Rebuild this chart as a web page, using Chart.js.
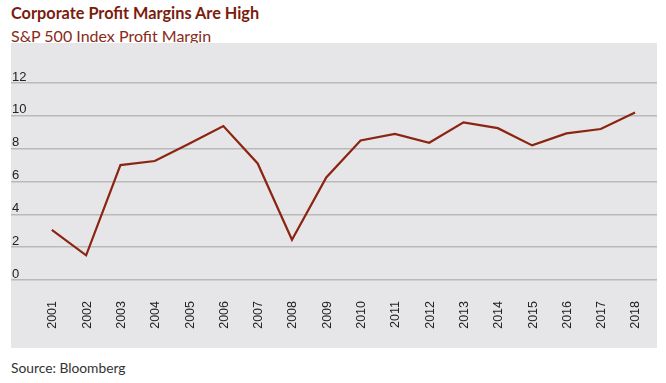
<!DOCTYPE html>
<html>
<head>
<meta charset="utf-8">
<script src="https://cdn.jsdelivr.net/npm/chart.js@4"></script>
<style>
  body { margin: 0; background: #fff; width: 666px; height: 383px; position: relative; overflow: hidden; }
  .txt { position: absolute; left: 11px; white-space: nowrap; font-family: Lato, "Open Sans", sans-serif; }
  #title { top: 3px; font-size: 16.3px; font-weight: 700; color: #7a1c0e; }
  #subtitle { top: 26px; font-size: 16px; font-weight: 400; color: #8a2a18; }
  #source { top: 359px; font-size: 13.8px; color: #333; }
  #panel { position: absolute; left: 11px; top: 43px; width: 646px; height: 305px; background: #e6e6e8; }
</style>
</head>
<body>
<div class="txt" id="title">Corporate Profit Margins Are High</div>
<div class="txt" id="subtitle">S&amp;P 500 Index Profit Margin</div>
<div id="panel"><canvas id="myChart" width="646" height="305"></canvas></div>
<div class="txt" id="source">Source: Bloomberg</div>
<script>
// 연도, 이익률(%)
const years = [2001, 2002, 2003, 2004, 2005, 2006, 2007, 2008, 2009, 2010, 2011, 2012, 2013, 2014, 2015, 2016, 2017, 2018]
const margins = [3.05, 1.5, 7.0, 7.25, 8.3, 9.38, 7.1, 2.45, 6.25, 8.5, 8.9, 8.36, 9.6, 9.25, 8.2, 8.93, 9.2, 10.2]
const yTicks = [0, 2, 4, 6, 8, 10, 12]

const ctx = document.getElementById('myChart').getContext('2d')
const points = years.map(function (y, i) {
    return { x: y, y: margins[i] }
})

new Chart(ctx, {
    type: 'line',
    data: {
        datasets: [
            {
                label: 'Profit Margin',
                data: points,
                borderColor: '#8b2411',
                borderWidth: 2.2,
                pointRadius: 0,
                tension: 0,
                fill: false,
            },
        ],
    },
    options: {
        responsive: false,
        animation: false,
        layout: { padding: { top: 40, left: 0, right: 0, bottom: 0 } },
        plugins: {
            legend: { display: false },
            tooltip: { enabled: false },
        },
        scales: {
            x: {
                type: 'linear',
                min: 1999.81,
                max: 2018.64,
                afterBuildTicks: function (scale) {
                    scale.ticks = years.map(function (v) { return { value: v } })
                },
                afterFit: function (scale) {
                    scale.height = 68
                    // 회전 라벨 때문에 생기는 좌우 여백 없애기
                    scale.paddingLeft = 0
                    scale.paddingRight = 0
                },
                grid: { display: false },
                border: { display: false },
                ticks: {
                    minRotation: 90,
                    maxRotation: 90,
                    padding: 13,
                    labelOffset: 1,
                    color: '#222',
                    font: { family: 'Liberation Sans, Arial, sans-serif', size: 12.5 },
                    callback: function (v) { return String(v) },
                },
            },
            y: {
                min: 0,
                max: 12,
                afterBuildTicks: function (scale) {
                    scale.ticks = yTicks.map(function (v) { return { value: v } })
                },
                afterFit: function (scale) {
                    scale.width = 0
                    scale.paddingTop = 0
                    scale.paddingBottom = 0
                },
                grid: { color: '#b9b9b9', lineWidth: 1.5, drawTicks: false },
                border: { display: false },
                ticks: {
                    mirror: true,
                    padding: 1,
                    labelOffset: -6,
                    color: '#222',
                    font: { family: 'Liberation Sans, Arial, sans-serif', size: 13 },
                },
            },
        },
    },
})
</script>
</body>
</html>
